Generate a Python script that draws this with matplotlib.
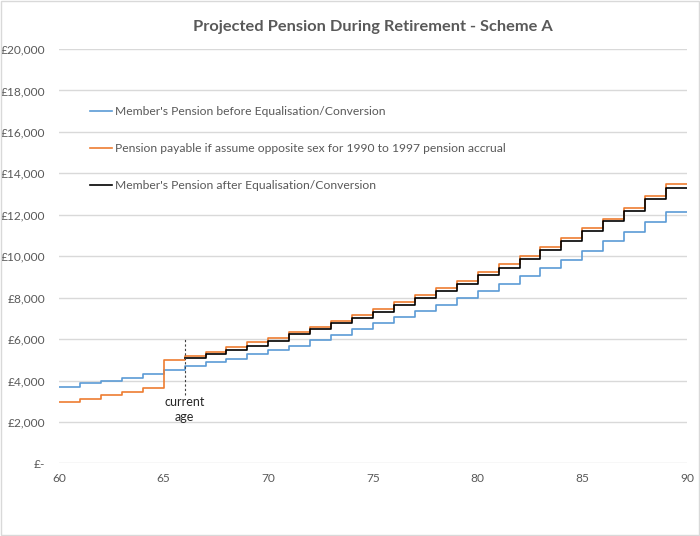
"""
Projected Pension During Retirement - Scheme A.

Step plot of projected yearly pension by age (60 to 90), before and after
equalisation/conversion, plus the opposite-sex comparison.
"""

import matplotlib
matplotlib.use('Agg')
import matplotlib.pyplot as plt
from matplotlib.ticker import FuncFormatter
from matplotlib.patches import Rectangle

# ============================================================================
# DATA (£ per year)
# ============================================================================
AGES = list(range(60, 90))
CURRENT_AGE = 66

PENSION_BEFORE = [3680, 3870, 4000, 4140, 4320, 4500, 4680, 4870, 5050, 5280,
                  5490, 5690, 5970, 6210, 6490, 6780, 7070, 7370, 7660, 7970,
                  8330, 8680, 9030, 9420, 9830, 10270, 10710, 11190, 11650, 12150]

PENSION_OPPOSITE = [2950, 3120, 3280, 3450, 3650, 4980, 5200, 5400, 5620, 5840,
                    6070, 6340, 6580, 6890, 7160, 7450, 7790, 8110, 8450, 8820,
                    9230, 9610, 10020, 10440, 10870, 11370, 11810, 12320, 12900, 13500]

AGES_AFTER = list(range(66, 90))
PENSION_AFTER = [5080, 5280, 5470, 5690, 5920, 6250, 6490, 6780, 7030, 7320,
                 7650, 7970, 8310, 8680, 9100, 9450, 9870, 10290, 10710, 11230,
                 11680, 12200, 12740, 13290]

LABELS = [
    "Member's Pension before Equalisation/Conversion",
    "Pension payable if assume opposite sex for 1990 to 1997 pension accrual",
    "Member's Pension after Equalisation/Conversion",
]
X_TICKS = [60, 65, 70, 75, 80, 85, 90]
Y_TICKS = list(range(0, 20001, 2000))

# ============================================================================
# STYLE
# ============================================================================
plt.rcParams['font.family'] = ['Lato', 'DejaVu Sans']
TEXT_COLOR = '#595959'
GRID_COLOR = '#D9D9D9'
BLUE = '#5B9BD5'
ORANGE = '#ED7D31'
BLACK = '#000000'


def step_xy(ages, values, end_age=90):
    # hold the last value until the end of the axis
    return list(ages) + [end_age], list(values) + [values[-1]]


def pound_fmt(v, pos):
    if v == 0:
        return '£-'
    return f'£{v:,.0f}'


# ============================================================================
# PLOT
# ============================================================================
fig = plt.figure(figsize=(7.0, 5.36), dpi=100)
ax = fig.add_axes([59 / 700, 1 - 463.4 / 536, 628 / 700, (463.4 - 49) / 536])

x, y = step_xy(AGES, PENSION_BEFORE)
ax.plot(x, y, drawstyle='steps-post', color=BLUE, lw=1.2, label=LABELS[0])
x, y = step_xy(AGES, PENSION_OPPOSITE)
ax.plot(x, y, drawstyle='steps-post', color=ORANGE, lw=1.2, label=LABELS[1])
x, y = step_xy(AGES_AFTER, PENSION_AFTER)
ax.plot(x, y, drawstyle='steps-post', color=BLACK, lw=1.2, label=LABELS[2])

# current age marker
ax.plot([CURRENT_AGE, CURRENT_AGE], [3300, 6000], color='#404040', lw=0.8,
        linestyle=(0, (2, 2)))
ax.text(CURRENT_AGE, 3250, 'current\nage', ha='center', va='top', fontsize=9,
        color='#262626', linespacing=1.3)

ax.set_xlim(60, 90)
ax.set_ylim(0, 20000)
ax.set_xticks(X_TICKS)
ax.set_yticks(Y_TICKS)
ax.yaxis.set_major_formatter(FuncFormatter(pound_fmt))
ax.grid(axis='y', color=GRID_COLOR, lw=1.0)
ax.set_axisbelow(True)
for s in ax.spines.values():
    s.set_visible(False)
ax.tick_params(axis='both', length=0, labelsize=8.6, labelcolor=TEXT_COLOR)
ax.tick_params(axis='y', pad=10)
ax.tick_params(axis='x', pad=7)

ax.set_title('Projected Pension During Retirement - Scheme A', fontsize=11.8,
             fontweight='bold', color=TEXT_COLOR, pad=13)

leg = ax.legend(loc='upper left', bbox_to_anchor=(90 / 700, 1 - 106 / 536),
                bbox_transform=fig.transFigure, frameon=False, fontsize=8.7,
                handlelength=1.8, handletextpad=0.3, labelspacing=2.15,
                borderpad=0, borderaxespad=0)
for t in leg.get_texts():
    t.set_color(TEXT_COLOR)

# chart area border
fig.patches.append(Rectangle((0.001, 0.001), 0.998, 0.998, transform=fig.transFigure,
                             fill=False, edgecolor=GRID_COLOR, lw=1.0))

fig.savefig('out.png', dpi=100)
